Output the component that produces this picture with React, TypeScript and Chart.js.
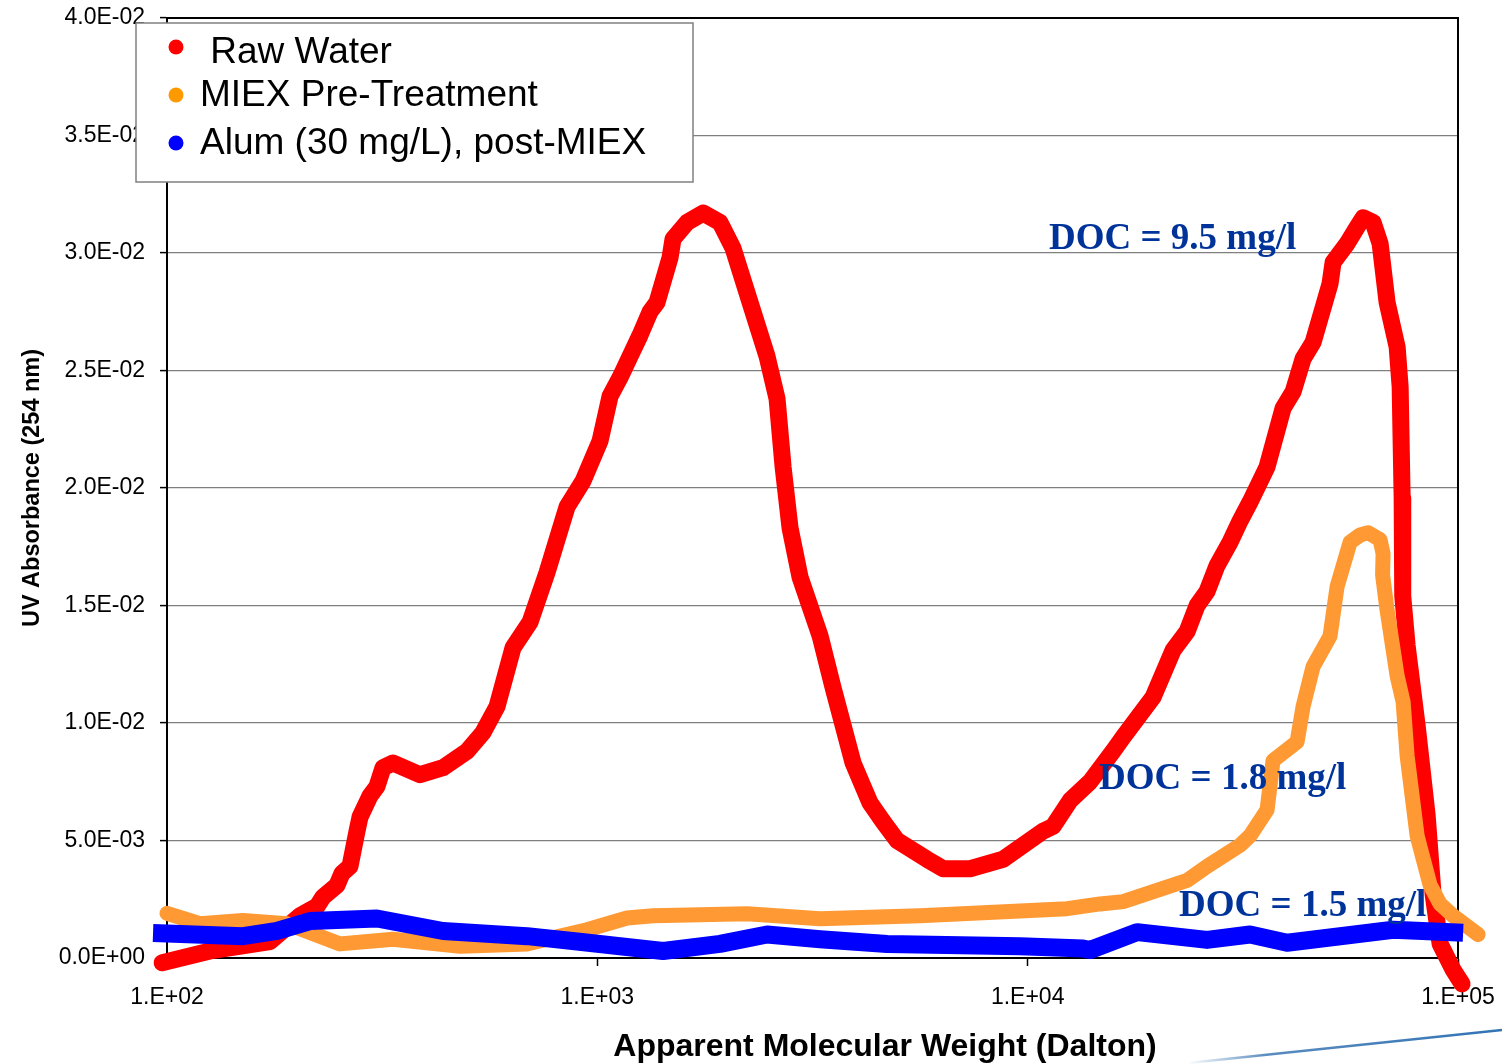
import React, { useEffect, useRef } from "react";
import { Chart, registerables } from "chart.js";

Chart.register(...registerables);

// ---- Data (apparent molecular weight in Dalton, UV absorbance at 254 nm) ----
const rawWaterMW = [
  97.4, 125.9, 173.5, 203.8, 223.2, 230.5, 248.4, 255.1, 266.2, 276.4, 280.9, 296.3, 307.6, 317.7,
  335.1, 387.3, 437.9, 498.0, 542.6, 584.7, 636.9, 697.8, 764.0, 850.5, 926.4, 977.2, 1014.6,
  1070.3, 1129.0, 1191.2, 1256.6, 1326.0, 1376.4, 1475.6, 1499.5, 1616.1, 1761.0, 1928.2, 2067.0,
  2264.0, 2479.6, 2616.0, 2701.6, 2804.3, 2958.7, 3293.7, 3530.8, 3929.3, 4302.7, 4613.2, 4972.0,
  5837.8, 6359.8, 7347.8, 8767.7, 10860, 11456, 12547, 13964, 15797, 16665, 19564, 21779, 23475,
  24755, 26115, 27549, 29535, 31155, 32864, 36003, 39236, 41391, 43652, 46046, 50434, 51254, 55240,
  58286, 60184, 63496, 65917, 68425, 72208, 73380, 74162, 74400, 76170, 80353, 84768, 87530, 90874,
  97408, 102212,
];
const rawWaterUV = [
  -0.0002, 0.0003, 0.0007, 0.0018, 0.0022, 0.0026, 0.0031, 0.0036, 0.0039, 0.0054, 0.006, 0.0069,
  0.0073, 0.0081, 0.0083, 0.0078, 0.0081, 0.0088, 0.0096, 0.0107, 0.0132, 0.0143, 0.0164, 0.0192,
  0.0203, 0.0213, 0.022, 0.0239, 0.0247, 0.0256, 0.0265, 0.0275, 0.0279, 0.0298, 0.0306, 0.0313,
  0.0317, 0.0313, 0.0302, 0.0279, 0.0256, 0.0238, 0.0209, 0.0183, 0.0162, 0.0137, 0.0115, 0.0083,
  0.0066, 0.0058, 0.005, 0.0042, 0.0038, 0.0038, 0.0042, 0.0054, 0.0056, 0.0067, 0.0075, 0.0088,
  0.0094, 0.0111, 0.0131, 0.0139, 0.015, 0.0156, 0.0167, 0.0177, 0.0186, 0.0194, 0.0209, 0.0234,
  0.0241, 0.0255, 0.0262, 0.0287, 0.0296, 0.0304, 0.0311, 0.0315, 0.0313, 0.0304, 0.0279, 0.026,
  0.0243, 0.0196, 0.0154, 0.0133, 0.0099, 0.0061, 0.0027, 0.0006, -0.0005, -0.0011,
];

const miexMW = [
  100, 119.3, 150.2, 190.0, 252.4, 335.1, 479.7, 686.6, 946.4, 1172.2, 1347, 2228.0, 3293.7, 5623.4,
  12350, 14733, 16665, 23475, 26115, 31155, 32864, 36003, 37170, 42278, 43652, 46046, 50434, 52360,
  56148, 59235, 61823, 65917, 66979, 66800, 68425, 72208, 74555, 76170, 80353, 86134, 90874, 97408,
  111350,
];
const miexUV = [
  0.0019, 0.00146, 0.0016, 0.00146, 0.0006, 0.0008, 0.0005, 0.0006, 0.0012, 0.0017, 0.0018, 0.00188,
  0.00167, 0.0018, 0.0021, 0.0023, 0.0024, 0.0033, 0.0039, 0.0048, 0.0052, 0.0063, 0.0084, 0.0092,
  0.0107, 0.0124, 0.0137, 0.0158, 0.0177, 0.018, 0.0181, 0.0178, 0.0172, 0.0163, 0.0148, 0.012,
  0.0109, 0.0086, 0.0052, 0.0031, 0.0023, 0.0018, 0.001,
];

const alumMW = [
  92.8, 150.2, 180.2, 214.9, 307.6, 437.9, 686.6, 897.2, 1129, 1421.6, 1928, 2479.6, 3293.7, 4713,
  9600, 13452, 13964, 17965, 26115, 32864, 40073, 70680, 102780,
];
const alumUV = [
  0.00106, 0.00093, 0.00115, 0.00157, 0.00168, 0.00115, 0.00093, 0.0007, 0.0005, 0.0003, 0.0006,
  0.001, 0.0008, 0.0006, 0.0005, 0.0004, 0.00034, 0.0011, 0.00077, 0.001, 0.00065, 0.0012, 0.00107,
];

const seriesLabels = [" Raw Water", "MIEX Pre-Treatment", "Alum (30 mg/L), post-MIEX"];
const xTickValues = [100, 1000, 10000, 100000];
const yTickValues = [0, 0.005, 0.01, 0.015, 0.02, 0.025, 0.03, 0.035, 0.04];
const docLabels = ["DOC = 9.5 mg/l", "DOC = 1.8 mg/l", "DOC = 1.5 mg/l"];
const xTitle = "Apparent Molecular Weight (Dalton)";
const yTitle = "UV Absorbance (254 nm)";

// annotation anchors (data coordinates: left edge / baseline of each label)
const docAnchors = [
  { mw: 11213, uv: 0.03017 },
  { mw: 14656, uv: 0.00719 },
  { mw: 22484, uv: 0.00179 },
];

const SANS = "'Liberation Sans', Arial, Helvetica, sans-serif";
const SERIF = "'Liberation Serif', 'Times New Roman', serif";

function fmtY(v: number): string {
  if (Math.abs(v) < 1e-12) return "0.0E+00";
  const [m, e] = v.toExponential(1).split("e");
  const n = parseInt(e, 10);
  return `${m}E${n < 0 ? "-" : "+"}${String(Math.abs(n)).padStart(2, "0")}`;
}
function fmtX(v: number): string {
  const n = Math.round(Math.log10(v));
  return `1.E+${String(n).padStart(2, "0")}`;
}

const pts = (xs: number[], ys: number[]) => xs.map((x, i) => ({ x, y: ys[i] }));

const zeroPadding = (s: any) => {
  s.paddingTop = 0;
  s.paddingBottom = 0;
  s.paddingLeft = 0;
  s.paddingRight = 0;
};

const overlayPlugin = {
  id: "overlay",
  beforeDatasetsDraw(chart: any) {
    const { ctx, chartArea: a } = chart;
    ctx.save();
    // top and right frame of the plot area
    ctx.strokeStyle = "#000";
    ctx.lineWidth = 2;
    ctx.beginPath();
    ctx.moveTo(a.left, a.top);
    ctx.lineTo(a.right, a.top);
    ctx.lineTo(a.right, a.bottom);
    ctx.stroke();
    ctx.restore();
  },
  afterDatasetsDraw(chart: any) {
    const { ctx, scales } = chart;
    const xs = scales.x;
    const ys = scales.y;
    ctx.save();
    ctx.fillStyle = "#003399";
    ctx.font = `bold 37px ${SERIF}`;
    ctx.textAlign = "left";
    ctx.textBaseline = "alphabetic";
    docLabels.forEach((t, i) => {
      ctx.fillText(t, xs.getPixelForValue(docAnchors[i].mw), ys.getPixelForValue(docAnchors[i].uv));
    });
    ctx.restore();
  },
  afterDraw(chart: any) {
    const { ctx, chartArea: a } = chart;
    ctx.save();

    // x axis title
    ctx.fillStyle = "#000";
    ctx.font = `bold 32px ${SANS}`;
    ctx.textAlign = "center";
    ctx.textBaseline = "alphabetic";
    ctx.fillText(xTitle, a.left + 718, a.bottom + 98);

    // legend
    const bx = a.left - 31;
    const by = a.top + 5;
    const bw = 557;
    const bh = 159;
    ctx.fillStyle = "#fff";
    ctx.fillRect(bx, by, bw, bh);
    ctx.strokeStyle = "#808080";
    ctx.lineWidth = 1.5;
    ctx.strokeRect(bx, by, bw, bh);
    const dotY = [24, 72, 120];
    const textY = [40, 83, 131];
    ctx.font = `37px ${SANS}`;
    ctx.textAlign = "left";
    chart.data.datasets.forEach((ds: any, i: number) => {
      ctx.fillStyle = ds.legendColor || ds.borderColor;
      ctx.beginPath();
      ctx.arc(bx + 40, by + dotY[i], 7.5, 0, Math.PI * 2);
      ctx.fill();
      ctx.fillStyle = "#000";
      ctx.fillText(ds.label, bx + 64, by + textY[i]);
    });

    // decorative slide line, bottom right
    const W = chart.width;
    const H = chart.height;
    const g = ctx.createLinearGradient(W - 314, 0, W, 0);
    g.addColorStop(0, "rgba(60,120,180,0)");
    g.addColorStop(0.25, "rgba(60,120,180,0.85)");
    g.addColorStop(1, "rgba(50,115,180,1)");
    ctx.strokeStyle = g;
    ctx.lineWidth = 2.5;
    ctx.beginPath();
    ctx.moveTo(W - 314, H - 1);
    ctx.lineTo(W, H - 34);
    ctx.stroke();
    ctx.restore();
  },
};

export default function App() {
  const ref = useRef<HTMLCanvasElement | null>(null);

  useEffect(() => {
    document.body.style.margin = "0";
    const canvas = ref.current;
    if (!canvas) return;
    const chart = new Chart(canvas, {
      type: "line",
      data: {
        datasets: [
          {
            label: seriesLabels[0],
            data: pts(rawWaterMW, rawWaterUV),
            borderColor: "#FF0000",
            borderWidth: 17,
            order: 2,
          },
          {
            label: seriesLabels[1],
            data: pts(miexMW, miexUV),
            borderColor: "#FF9933",
            legendColor: "#FF9900",
            borderWidth: 15,
            order: 1,
          },
          {
            label: seriesLabels[2],
            data: pts(alumMW, alumUV),
            borderColor: "#0000FF",
            borderWidth: 18,
            borderCapStyle: "butt",
            order: 0,
          },
        ] as any,
      },
      options: {
        animation: false,
        responsive: false,
        devicePixelRatio: 1,
        events: [],
        layout: { autoPadding: false, padding: { top: 18, right: 44, left: 0, bottom: 0 } },
        elements: {
          point: { radius: 0 },
          line: { tension: 0, borderJoinStyle: "round", borderCapStyle: "round", fill: false },
        },
        datasets: { line: { clip: false as any } },
        plugins: {
          legend: { display: false },
          tooltip: { enabled: false },
        },
        scales: {
          x: {
            type: "logarithmic",
            position: "bottom",
            min: 100,
            max: 100000,
            afterBuildTicks: (s: any) => {
              s.ticks = xTickValues.map((v) => ({ value: v }));
            },
            afterFit: (s: any) => {
              s.height = 106;
              zeroPadding(s);
            },
            grid: {
              display: true,
              drawOnChartArea: false,
              drawTicks: true,
              tickLength: 8,
              tickColor: "#000",
              tickWidth: 1.5,
            },
            border: { display: true, color: "#000", width: 2 },
            ticks: {
              autoSkip: false,
              maxRotation: 0,
              padding: 18,
              color: "#000",
              font: { family: SANS, size: 23 },
              callback: (v: any) => fmtX(Number(v)),
            },
          },
          y: {
            type: "linear",
            position: "left",
            min: 0,
            max: 0.04,
            afterBuildTicks: (s: any) => {
              s.ticks = yTickValues.map((v) => ({ value: v }));
            },
            afterFit: (s: any) => {
              s.width = 167;
              zeroPadding(s);
            },
            grid: {
              color: "#7f7f7f",
              lineWidth: 1.2,
              drawTicks: true,
              tickLength: 7,
              tickColor: "#000",
              tickWidth: 1.5,
            },
            border: { display: true, color: "#000", width: 2 },
            ticks: {
              padding: 15,
              color: "#000",
              font: { family: SANS, size: 23 },
              callback: (v: any) => fmtY(Number(v)),
            },
            title: {
              display: true,
              text: yTitle,
              color: "#000",
              font: { family: SANS, size: 23.5, weight: "bold" },
              padding: { top: 18, bottom: 0 },
            },
          },
        },
      } as any,
      plugins: [overlayPlugin],
    });
    return () => chart.destroy();
  }, []);

  return (
    <div style={{ width: 1502, height: 1064 }}>
      <canvas ref={ref} width={1502} height={1064} style={{ display: "block", width: 1502, height: 1064 }} />
    </div>
  );
}
